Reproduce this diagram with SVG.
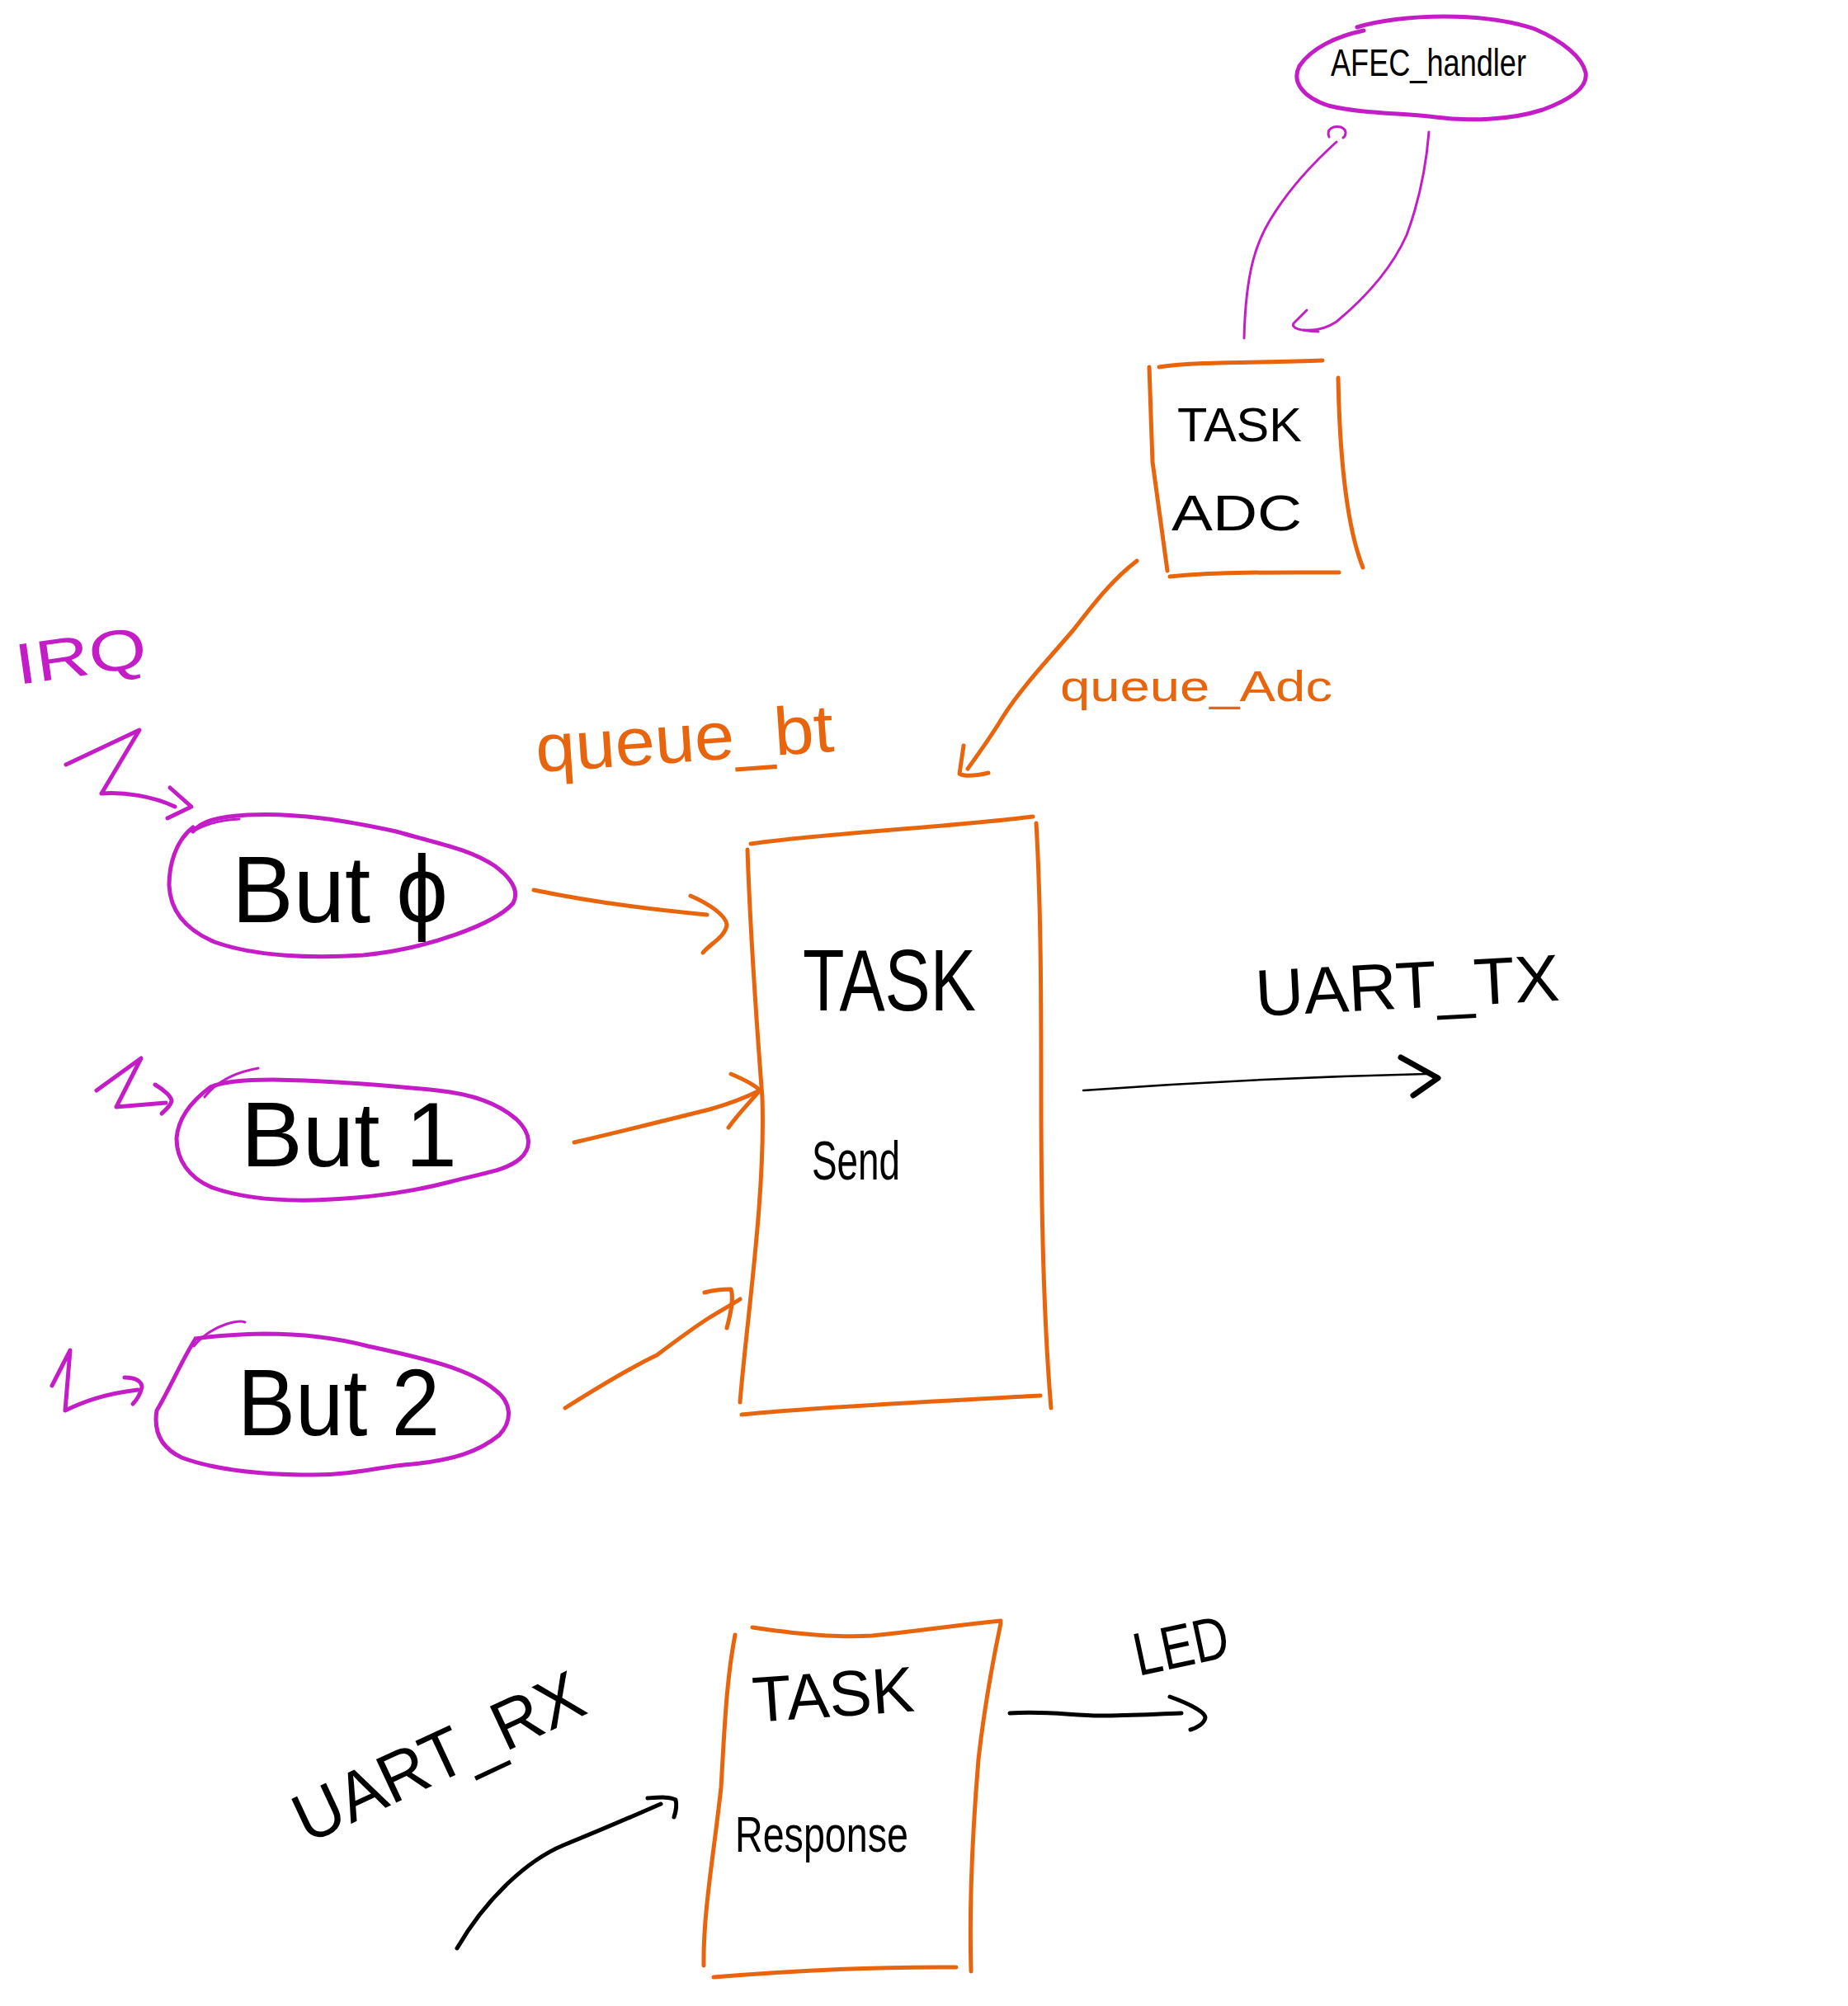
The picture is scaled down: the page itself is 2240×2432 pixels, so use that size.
<svg xmlns="http://www.w3.org/2000/svg" width="2240" height="2432" viewBox="0 0 2240 2432">
<style>
  .o { fill: none; stroke: #e8650e; stroke-linecap: round; stroke-linejoin: round; }
  .m { fill: none; stroke: #c41dc7; stroke-linecap: round; stroke-linejoin: round; }
  .k { fill: none; stroke: #000; stroke-linecap: round; stroke-linejoin: round; }
  .box { stroke-width: 5; }
  .arr { stroke-width: 5; }
  .ell { stroke-width: 5; }
  .thin { stroke-width: 3; }
  text { font-family: "Liberation Sans", "DejaVu Sans", sans-serif; }
  .tk { fill: #000; }
  .to { fill: #e8650e; }
  .tm { fill: #c41dc7; }
</style>
<rect width="2240" height="2432" fill="#fff"/>

<g id="connectors">
  <!-- AFEC handler loop -->
  <path class="m thin" d="M1508,410 C1510,330 1522,292 1545,258 C1568,222 1598,192 1620,172"/>
  <path class="m thin" d="M1611,166 C1607,156 1617,152 1625,154 C1633,157 1632,164 1628,167"/>
  <path class="m thin" d="M1732,160 C1728,210 1718,250 1705,285 C1685,330 1650,365 1620,390 C1605,400 1590,401 1580,400"/>
  <path class="m thin" d="M1584,376 L1568,392 C1565,398 1575,401 1598,402"/>
  <!-- queue_Adc -->
  <path class="o arr" d="M1378,680 C1345,705 1320,740 1300,765 C1270,800 1237,835 1215,870 C1200,895 1185,915 1173,932"/>
  <path class="o arr" d="M1168,904 L1163,938 C1170,942 1185,940 1198,937"/>
  <text class="to" x="1285" y="850" font-size="52" textLength="330" lengthAdjust="spacingAndGlyphs">queue_Adc</text>
  <!-- IRQ lightning -->
  <text class="tm" x="22" y="830" font-size="70" textLength="160" lengthAdjust="spacingAndGlyphs" transform="rotate(-8 22 830)">IRQ</text>
  <path class="m ell" d="M80,927 L169,885 L123,962 C150,960 185,965 212,978"/>
  <path class="m ell" d="M206,955 L232,978 L203,992"/>
  <path class="m ell" d="M117,1322 L171,1283 L141,1342 L201,1337"/>
  <path class="m ell" d="M188,1315 C200,1322 208,1330 208,1335 C206,1342 200,1346 196,1350"/>
  <path class="m ell" d="M63,1680 L85,1637 L79,1710 C100,1700 125,1690 167,1685"/>
  <path class="m ell" d="M151,1670 C165,1670 172,1675 172,1682 C170,1690 166,1697 161,1702"/>
  <!-- queue_bt -->
  <text class="to" x="651" y="936" font-size="82" textLength="362" lengthAdjust="spacingAndGlyphs" transform="rotate(-4 651 936)">queue_bt</text>
  <path class="o arr" d="M647,1079 C700,1090 760,1100 857,1109"/>
  <path class="o arr" d="M837,1086 C860,1096 880,1110 881,1121 C880,1135 860,1145 852,1155"/>
  <path class="o arr" d="M696,1385 C760,1370 820,1355 860,1345 C885,1338 905,1330 921,1322"/>
  <path class="o arr" d="M886,1302 C900,1308 915,1315 921,1322 C910,1335 895,1350 883,1367"/>
  <path class="o arr" d="M685,1707 C720,1685 760,1660 796,1643 C820,1625 840,1610 859,1598 C875,1588 890,1580 897,1575"/>
  <path class="o arr" d="M854,1567 C865,1564 878,1563 886,1563 C890,1575 885,1595 881,1610"/>
  <!-- UART_TX -->
  <text class="tk" x="1523" y="1232" font-size="80" textLength="369" lengthAdjust="spacingAndGlyphs" transform="rotate(-3 1523 1232)">UART_TX</text>
  <path class="k" stroke-width="2.5" d="M1313,1322 C1450,1312 1600,1305 1729,1302"/>
  <path class="k" stroke-width="7" d="M1698,1282 L1743,1307 L1713,1328"/>
  <!-- UART_RX -->
  <text class="tk" x="372" y="2236" font-size="84" textLength="378" lengthAdjust="spacingAndGlyphs" transform="rotate(-25 372 2236)">UART_RX</text>
  <path class="k arr" d="M554,2362 C590,2300 640,2255 683,2237 C720,2222 760,2205 801,2187"/>
  <path class="k ell" d="M785,2180 C800,2179 812,2178 819,2182 C821,2190 819,2197 817,2203"/>
  <!-- LED -->
  <text class="tk" x="1380" y="2032" font-size="74" textLength="116" lengthAdjust="spacingAndGlyphs" transform="rotate(-12 1380 2032)">LED</text>
  <path class="k arr" d="M1224,2077 C1270,2074 1300,2080 1333,2080 C1370,2080 1400,2078 1432,2077"/>
  <path class="k arr" d="M1418,2057 C1440,2065 1460,2075 1461,2082 C1460,2090 1450,2095 1443,2097"/>
</g>

<g id="afec-handler">
  <path class="m ell" d="M1653,37 C1620,44 1590,58 1575,80 C1565,100 1580,118 1610,128 C1650,138 1700,137 1740,142 C1780,147 1830,146 1870,133 C1905,120 1925,105 1922,88 C1918,70 1895,50 1860,35 C1830,25 1790,20 1750,20 C1710,20 1670,25 1645,33"/>
  <text class="tk" x="1613" y="92" font-size="46" textLength="237" lengthAdjust="spacingAndGlyphs">AFEC_handler</text>
</g>

<g id="task-adc">
  <path class="o box" d="M1393,445 L1397,560 L1415,692"/>
  <path class="o box" d="M1405,445 C1450,438 1530,440 1603,437"/>
  <path class="o box" d="M1622,458 C1624,560 1633,640 1652,688"/>
  <path class="o box" d="M1418,699 C1470,693 1550,694 1623,694"/>
  <text class="tk" x="1427" y="535" font-size="58" textLength="151" lengthAdjust="spacingAndGlyphs">TASK</text>
  <text class="tk" x="1420" y="643" font-size="62" textLength="158" lengthAdjust="spacingAndGlyphs">ADC</text>
</g>

<g id="but0">
  <path class="m ell" d="M234,1003 C212,1020 205,1050 205,1073 C206,1100 220,1125 260,1142 C310,1160 380,1162 440,1158 C520,1150 600,1120 622,1095 C630,1080 620,1065 600,1050 C570,1030 540,1025 480,1008 C420,995 360,985 300,988 C265,990 245,995 234,1008"/>
  <path class="m thin" d="M234,1008 C250,998 270,994 290,993"/>
  <text class="tk" x="281" y="1118" font-size="115" textLength="262" lengthAdjust="spacingAndGlyphs">But ϕ</text>
</g>

<g id="but1">
  <path class="m ell" d="M255,1318 C232,1335 216,1355 214,1380 C214,1405 228,1428 258,1440 C295,1453 335,1456 380,1455 C440,1453 495,1446 545,1433 C585,1422 612,1420 630,1405 C645,1392 644,1374 626,1357 C602,1336 570,1326 530,1322 C470,1316 400,1310 330,1309 C295,1309 270,1311 255,1318"/>
  <path class="m thin" d="M248,1330 C262,1312 285,1300 313,1295"/>
  <text class="tk" x="292" y="1414" font-size="112" textLength="262" lengthAdjust="spacingAndGlyphs">But 1</text>
</g>

<g id="but2">
  <path class="m ell" d="M237,1623 C220,1650 205,1685 190,1710 C186,1735 195,1755 220,1767 C260,1782 320,1788 380,1788 C430,1788 460,1778 500,1775 C550,1770 580,1760 605,1740 C622,1722 620,1700 600,1685 C570,1660 520,1648 446,1632 C400,1620 360,1617 320,1617 C280,1618 255,1620 237,1623"/>
  <path class="m thin" d="M235,1632 C245,1620 260,1610 275,1605 C285,1602 292,1601 297,1603"/>
  <text class="tk" x="288" y="1740" font-size="115" textLength="245" lengthAdjust="spacingAndGlyphs">But 2</text>
</g>

<g id="task-send">
  <path class="o box" d="M910,1023 C1000,1010 1150,1003 1252,990"/>
  <path class="o box" d="M906,1030 C910,1150 918,1250 924,1331 C928,1450 905,1600 897,1700"/>
  <path class="o box" d="M1256,998 C1262,1100 1262,1220 1262,1330 C1262,1480 1265,1600 1274,1707"/>
  <path class="o box" d="M899,1715 C1000,1705 1150,1698 1261,1692"/>
  <text class="tk" x="973" y="1225" font-size="105" textLength="210" lengthAdjust="spacingAndGlyphs">TASK</text>
  <text class="tk" x="984" y="1430" font-size="66" textLength="107" lengthAdjust="spacingAndGlyphs">Send</text>
</g>

<g id="task-response">
  <path class="o box" d="M912,1973 C960,1980 1010,1986 1057,1983 C1110,1978 1160,1970 1213,1965"/>
  <path class="o box" d="M891,1982 C880,2040 878,2100 874,2167 C865,2250 852,2320 853,2383"/>
  <path class="o box" d="M1213,1968 C1200,2030 1192,2080 1186,2133 C1178,2230 1175,2320 1177,2390"/>
  <path class="o box" d="M865,2397 C950,2390 1050,2384 1159,2385"/>
  <text class="tk" x="914" y="2088" font-size="78" textLength="196" lengthAdjust="spacingAndGlyphs" transform="rotate(-4 914 2088)">TASK</text>
  <text class="tk" x="891" y="2245" font-size="62" textLength="210" lengthAdjust="spacingAndGlyphs">Response</text>
</g>
</svg>
